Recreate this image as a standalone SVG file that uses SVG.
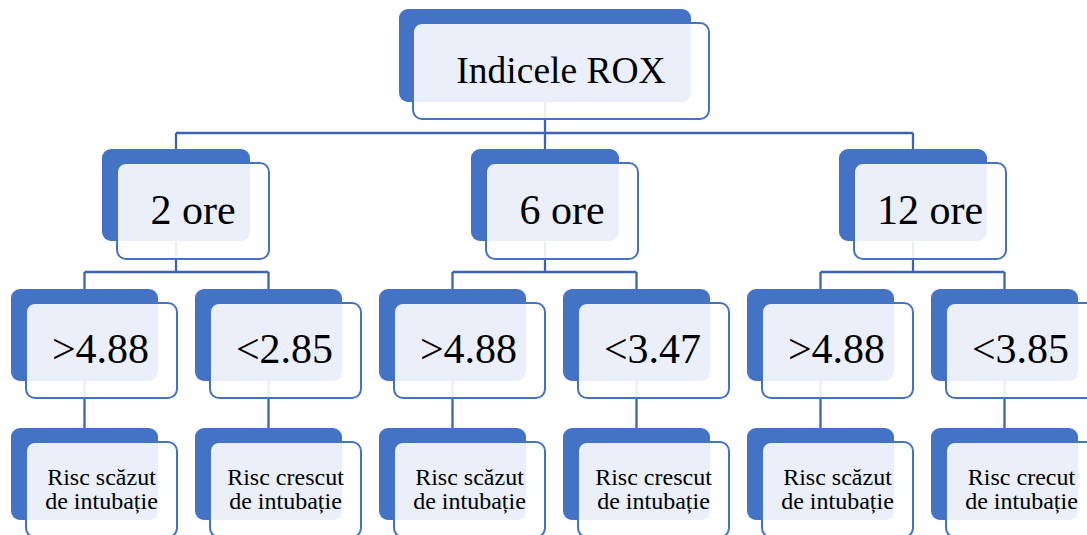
<svg xmlns="http://www.w3.org/2000/svg" width="1087" height="535" viewBox="0 0 1087 535">
<style>
.back{fill:#4472C4}
.front{fill:#FFFFFF;fill-opacity:0.89;stroke:#4472C4;stroke-width:2}
.conn{stroke:#3F64AD;stroke-width:2.3;fill:none}
</style>
<rect width="1087" height="535" fill="#FFFFFF"/>
<g id="connectors" class="conn">
<path d="M545 102V133M176 133H913M176 133V149M545 133V149M913 133V149"/>
<path d="M176 241V272M84.5 272H268.5M84.5 272V289M268.5 272V289"/>
<path d="M545 241V272M452.5 272H636.5M452.5 272V289M636.5 272V289"/>
<path d="M913 241V272M820.5 272H1004.5M820.5 272V289M1004.5 272V289"/>
<path d="M84.5 381V428M268.5 381V428M452.5 381V428M636.5 381V428M820.5 381V428M1004.5 381V428"/>
</g>
<g id="n-root">
<rect class="back" x="399" y="9" width="292" height="93" rx="9"/>
<rect class="front" x="413" y="23" width="296" height="96" rx="9"/>
<text font-family="Liberation Serif" font-size="37.5" text-anchor="middle" x="561" y="83">Indicele ROX</text>
</g>
<g id="n-2ore">
<rect class="back" x="102" y="149" width="148" height="92" rx="9"/>
<rect class="front" x="117" y="163" width="152" height="96" rx="9"/>
<text font-family="Liberation Serif" font-size="42" text-anchor="middle" x="193" y="224">2 ore</text>
</g>
<g id="n-6ore">
<rect class="back" x="471" y="149" width="148" height="92" rx="9"/>
<rect class="front" x="486" y="163" width="152" height="96" rx="9"/>
<text font-family="Liberation Serif" font-size="42" text-anchor="middle" x="562" y="224">6 ore</text>
</g>
<g id="n-12ore">
<rect class="back" x="839" y="149" width="148" height="92" rx="9"/>
<rect class="front" x="854" y="163" width="152" height="96" rx="9"/>
<text font-family="Liberation Serif" font-size="42" text-anchor="middle" x="930" y="224">12 ore</text>
</g>
<g id="n-2a">
<rect class="back" x="11" y="289" width="147" height="92" rx="9"/>
<rect class="front" x="26" y="303" width="151" height="95" rx="9"/>
<text font-family="Liberation Serif" font-size="42" text-anchor="middle" x="100.5" y="363">&gt;4.88</text>
</g>
<g id="n-2b">
<rect class="back" x="195" y="289" width="147" height="92" rx="9"/>
<rect class="front" x="210" y="303" width="151" height="95" rx="9"/>
<text font-family="Liberation Serif" font-size="42" text-anchor="middle" x="284.5" y="363">&lt;2.85</text>
</g>
<g id="n-6a">
<rect class="back" x="379" y="289" width="147" height="92" rx="9"/>
<rect class="front" x="394" y="303" width="151" height="95" rx="9"/>
<text font-family="Liberation Serif" font-size="42" text-anchor="middle" x="468.5" y="363">&gt;4.88</text>
</g>
<g id="n-6b">
<rect class="back" x="563" y="289" width="147" height="92" rx="9"/>
<rect class="front" x="578" y="303" width="151" height="95" rx="9"/>
<text font-family="Liberation Serif" font-size="42" text-anchor="middle" x="652.5" y="363">&lt;3.47</text>
</g>
<g id="n-12a">
<rect class="back" x="747" y="289" width="147" height="92" rx="9"/>
<rect class="front" x="762" y="303" width="151" height="95" rx="9"/>
<text font-family="Liberation Serif" font-size="42" text-anchor="middle" x="836.5" y="363">&gt;4.88</text>
</g>
<g id="n-12b">
<rect class="back" x="931" y="289" width="147" height="92" rx="9"/>
<rect class="front" x="946" y="303" width="151" height="95" rx="9"/>
<text font-family="Liberation Serif" font-size="42" text-anchor="middle" x="1020.5" y="363">&lt;3.85</text>
</g>
<g id="r-2a">
<rect class="back" x="11" y="428" width="147" height="92" rx="9"/>
<rect class="front" x="26" y="442" width="151" height="95" rx="9"/>
<text font-family="Liberation Serif" font-size="24" text-anchor="middle" x="101.5" y="485">Risc scăzut</text>
<text font-family="Liberation Serif" font-size="24" text-anchor="middle" x="101.5" y="509">de intubație</text>
</g>
<g id="r-2b">
<rect class="back" x="195" y="428" width="147" height="92" rx="9"/>
<rect class="front" x="210" y="442" width="151" height="95" rx="9"/>
<text font-family="Liberation Serif" font-size="24" text-anchor="middle" x="285.5" y="485">Risc crescut</text>
<text font-family="Liberation Serif" font-size="24" text-anchor="middle" x="285.5" y="509">de intubație</text>
</g>
<g id="r-6a">
<rect class="back" x="379" y="428" width="147" height="92" rx="9"/>
<rect class="front" x="394" y="442" width="151" height="95" rx="9"/>
<text font-family="Liberation Serif" font-size="24" text-anchor="middle" x="469.5" y="485">Risc scăzut</text>
<text font-family="Liberation Serif" font-size="24" text-anchor="middle" x="469.5" y="509">de intubație</text>
</g>
<g id="r-6b">
<rect class="back" x="563" y="428" width="147" height="92" rx="9"/>
<rect class="front" x="578" y="442" width="151" height="95" rx="9"/>
<text font-family="Liberation Serif" font-size="24" text-anchor="middle" x="653.5" y="485">Risc crescut</text>
<text font-family="Liberation Serif" font-size="24" text-anchor="middle" x="653.5" y="509">de intubație</text>
</g>
<g id="r-12a">
<rect class="back" x="747" y="428" width="147" height="92" rx="9"/>
<rect class="front" x="762" y="442" width="151" height="95" rx="9"/>
<text font-family="Liberation Serif" font-size="24" text-anchor="middle" x="837.5" y="485">Risc scăzut</text>
<text font-family="Liberation Serif" font-size="24" text-anchor="middle" x="837.5" y="509">de intubație</text>
</g>
<g id="r-12b">
<rect class="back" x="931" y="428" width="147" height="92" rx="9"/>
<rect class="front" x="946" y="442" width="151" height="95" rx="9"/>
<text font-family="Liberation Serif" font-size="24" text-anchor="middle" x="1021.5" y="485">Risc crecut</text>
<text font-family="Liberation Serif" font-size="24" text-anchor="middle" x="1021.5" y="509">de intubație</text>
</g>
</svg>
